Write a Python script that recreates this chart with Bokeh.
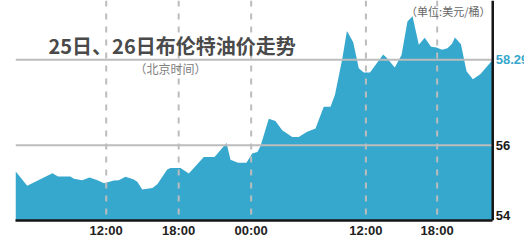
from bokeh.plotting import figure
from bokeh.models import Span, Label, FixedTicker, Range1d
from bokeh.embed import file_html
from bokeh.resources import INLINE

# time position (display hours, overnight pause compressed) and Brent price (USD/bbl)
hours = [4.49, 5.46, 7.55, 8.01, 9.04, 9.32, 10.01, 10.62, 11.28, 11.82,
         12.65, 13.04, 13.60, 14.28, 14.59, 14.98, 15.83, 16.25, 17.05, 17.32,
         18.15, 18.84, 20.08, 20.97, 21.96, 22.29, 22.91, 23.61, 24.09, 24.52,
         24.77, 25.46, 26.01, 26.57, 27.40, 27.94, 28.64, 29.33, 30.01, 30.57,
         30.94, 31.54, 31.93, 32.45, 32.91, 33.32, 33.84, 34.93, 35.20, 35.89,
         36.45, 36.94, 37.36, 37.88, 38.37, 38.89, 39.34, 39.81, 40.25, 40.63,
         40.87, 41.37, 41.83, 42.36, 42.99, 44.00]
prices = [55.30, 54.91, 55.25, 55.16, 55.16, 55.10, 55.06, 55.13, 55.06, 54.98,
          55.05, 55.06, 55.15, 55.08, 55.01, 54.81, 54.85, 54.96, 55.35, 55.39,
          55.39, 55.24, 55.68, 55.68, 56.06, 55.61, 55.53, 55.53, 55.78, 55.82,
          55.97, 56.71, 56.65, 56.40, 56.22, 56.22, 56.36, 56.45, 57.03, 57.03,
          57.35, 58.31, 59.06, 58.76, 58.06, 57.95, 57.95, 58.43, 58.35, 58.08,
          58.42, 59.32, 59.46, 58.69, 58.88, 58.64, 58.62, 58.56, 58.60, 58.72,
          58.89, 58.71, 57.98, 57.77, 57.91, 58.29]

x_ticks = [12, 18, 24, 33.5, 39.4]
x_tick_labels = ["12:00", "18:00", "00:00", "12:00", "18:00"]
y_marks = [58.29, 56, 54]
y_mark_labels = ["58.29", "56", "54"]
title_text = "25日、26日布伦特油价走势"
subtitle_text = "（北京时间）"
unit_text = "（单位:美元/桶）"

X0, X1 = 4.49, 46.63
Y0, Y1 = 53.98, 59.88
X_END = hours[-1]

p = figure(width=524, height=240, output_backend="svg",
           toolbar_location=None, x_range=Range1d(X0, X1), y_range=Range1d(Y0, Y1),
           min_border_left=15, min_border_right=0, min_border_top=0,
           min_border_bottom=20, y_axis_location=None)
p.outline_line_color = None
p.grid.visible = False
p.background_fill_color = "white"
p.border_fill_color = "white"

# area
p.varea(x=hours, y1=50, y2=prices, fill_color="#36a7cd", fill_alpha=1.0)

# horizontal reference lines (end at the right axis)
p.segment(x0=[X0, X0], y0=y_marks[:2], x1=[X_END, X_END], y1=y_marks[:2],
          line_color="#bcbcbc", line_width=2)

# vertical dashed lines
for t in x_ticks:
    p.add_layout(Span(location=t, dimension="height", line_color="#bcbcbc",
                      line_width=2, line_dash="6 7"))

# right axis line
p.add_layout(Span(location=X_END, dimension="height", line_color="#151515",
                  line_width=2.5))

# bottom axis
xa = p.xaxis[0]
xa.ticker = FixedTicker(ticks=x_ticks)
xa.major_label_overrides = {t: l for t, l in zip(x_ticks, x_tick_labels)}
xa.bounds = (X0, X_END)
xa.axis_line_color = "#151515"
xa.axis_line_width = 2.5
xa.major_tick_line_color = None
xa.minor_tick_line_color = None
xa.major_tick_out = 0
xa.major_tick_in = 0
xa.major_label_standoff = 2
xa.major_label_text_font = "Liberation Sans"
xa.major_label_text_font_style = "bold"
xa.major_label_text_font_size = "13px"
xa.major_label_text_color = "#222222"

# right-side value labels
colors = ["#36a7cd", "#1a1a1a", "#1a1a1a"]
baselines = ["middle", "middle", "bottom"]
for v, lab, c, b in zip(y_marks, y_mark_labels, colors, baselines):
    p.add_layout(Label(x=X_END, y=v, x_offset=3, text=lab, text_color=c,
                       text_font="Liberation Sans", text_font_style="bold",
                       text_font_size="13px", text_baseline=b, text_align="left"))

# titles
p.add_layout(Label(x=7.22, y=58.67, text=title_text, text_color="#4a4a4a",
                   text_font="Noto Sans CJK SC", text_font_style="bold",
                   text_font_size="20px", text_baseline="middle", text_align="left"))
p.add_layout(Label(x=17.32, y=58.05, text=subtitle_text, text_color="#808080",
                   text_font="Noto Sans CJK SC", text_font_size="12px",
                   text_baseline="middle", text_align="center"))
p.add_layout(Label(x=43.81, y=Y1, y_offset=-2, text=unit_text, text_color="#666666",
                   text_font="Noto Sans CJK SC", text_font_size="11px",
                   text_baseline="top", text_align="right"))

open("out.html", "w").write(file_html(p, INLINE))
